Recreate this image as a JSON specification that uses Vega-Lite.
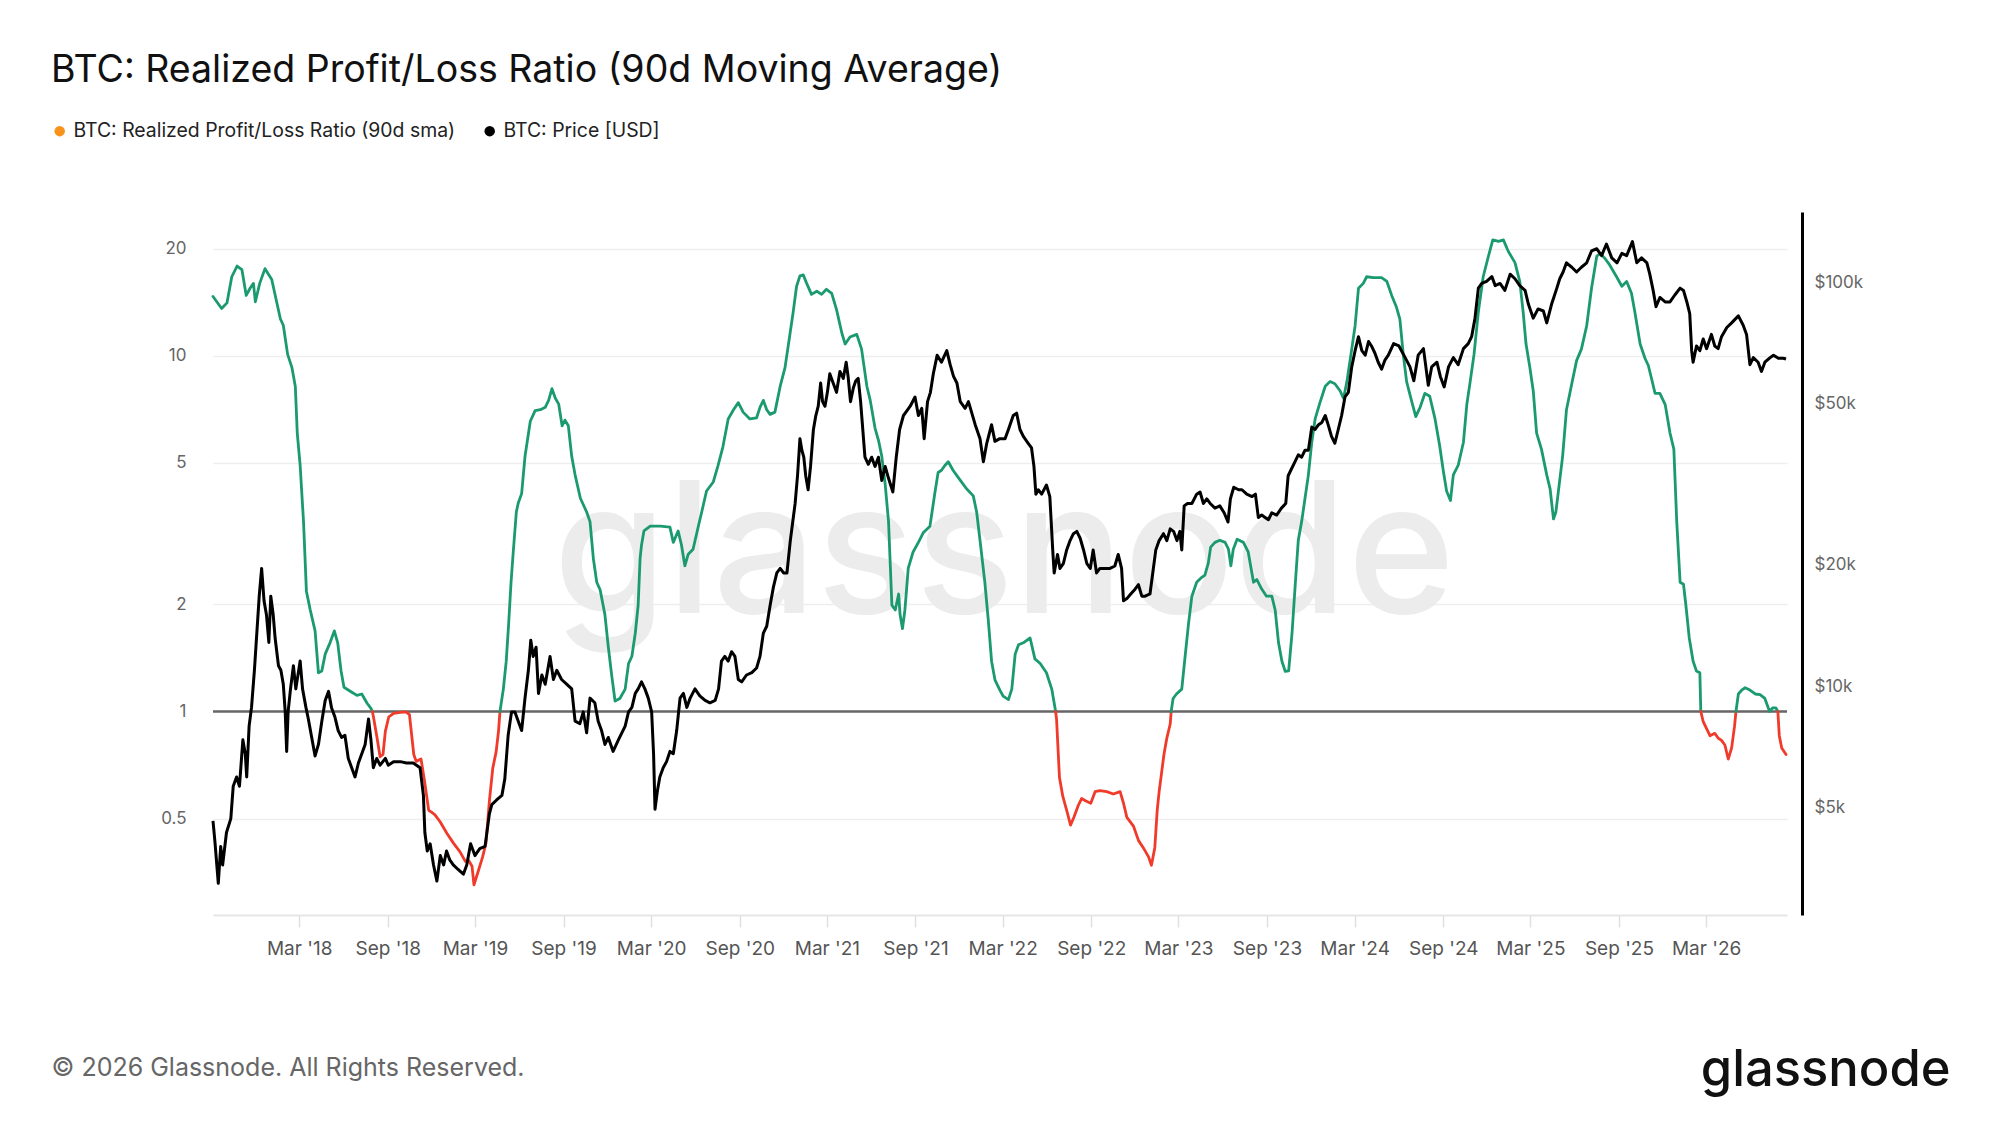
{
"$schema": "https://vega.github.io/schema/vega-lite/v6.json",
"width": 1574,
"height": 703,
"autosize": {"type": "none"},
"padding": {"left": 213, "top": 212, "right": 213, "bottom": 210},
"background": "#ffffff",
"config": {"font": "Inter", "view": {"stroke": null}},
"title": {"text": "BTC: Realized Profit/Loss Ratio (90d Moving Average)", "anchor": "start", "frame": "group", "dx": -162, "dy": -12, "fontSize": 37.5, "fontWeight": 400, "color": "#111111", "font": "Inter", "offset": 20},
"datasets": {
"ratio": [
{"date":"2017-09-03","ratio":14.7,"zone":"profit","seg":1},
{"date":"2017-09-21","ratio":13.6,"zone":"profit","seg":1},
{"date":"2017-10-02","ratio":14.1,"zone":"profit","seg":1},
{"date":"2017-10-12","ratio":16.7,"zone":"profit","seg":1},
{"date":"2017-10-23","ratio":17.9,"zone":"profit","seg":1},
{"date":"2017-11-02","ratio":17.5,"zone":"profit","seg":1},
{"date":"2017-11-11","ratio":14.8,"zone":"profit","seg":1},
{"date":"2017-11-19","ratio":15.5,"zone":"profit","seg":1},
{"date":"2017-11-26","ratio":16.0,"zone":"profit","seg":1},
{"date":"2017-11-30","ratio":14.2,"zone":"profit","seg":1},
{"date":"2017-12-09","ratio":16.0,"zone":"profit","seg":1},
{"date":"2017-12-20","ratio":17.6,"zone":"profit","seg":1},
{"date":"2018-01-03","ratio":16.4,"zone":"profit","seg":1},
{"date":"2018-01-21","ratio":12.7,"zone":"profit","seg":1},
{"date":"2018-01-27","ratio":12.2,"zone":"profit","seg":1},
{"date":"2018-02-05","ratio":10.1,"zone":"profit","seg":1},
{"date":"2018-02-14","ratio":9.27,"zone":"profit","seg":1},
{"date":"2018-02-21","ratio":8.2,"zone":"profit","seg":1},
{"date":"2018-02-25","ratio":6.07,"zone":"profit","seg":1},
{"date":"2018-03-03","ratio":4.92,"zone":"profit","seg":1},
{"date":"2018-03-10","ratio":3.42,"zone":"profit","seg":1},
{"date":"2018-03-16","ratio":2.18,"zone":"profit","seg":1},
{"date":"2018-03-24","ratio":1.93,"zone":"profit","seg":1},
{"date":"2018-04-03","ratio":1.685,"zone":"profit","seg":1},
{"date":"2018-04-10","ratio":1.285,"zone":"profit","seg":1},
{"date":"2018-04-17","ratio":1.30,"zone":"profit","seg":1},
{"date":"2018-04-24","ratio":1.45,"zone":"profit","seg":1},
{"date":"2018-05-04","ratio":1.56,"zone":"profit","seg":1},
{"date":"2018-05-13","ratio":1.685,"zone":"profit","seg":1},
{"date":"2018-05-20","ratio":1.56,"zone":"profit","seg":1},
{"date":"2018-05-27","ratio":1.30,"zone":"profit","seg":1},
{"date":"2018-06-02","ratio":1.17,"zone":"profit","seg":1},
{"date":"2018-06-15","ratio":1.14,"zone":"profit","seg":1},
{"date":"2018-06-29","ratio":1.11,"zone":"profit","seg":1},
{"date":"2018-07-09","ratio":1.12,"zone":"profit","seg":1},
{"date":"2018-07-20","ratio":1.055,"zone":"profit","seg":1},
{"date":"2018-07-28","ratio":1.02,"zone":"profit","seg":1},
{"date":"2018-07-31","ratio":1.0,"zone":"profit","seg":1},
{"date":"2018-07-31","ratio":1.0,"zone":"loss","seg":2},
{"date":"2018-08-02","ratio":0.97,"zone":"loss","seg":2},
{"date":"2018-08-09","ratio":0.855,"zone":"loss","seg":2},
{"date":"2018-08-16","ratio":0.746,"zone":"loss","seg":2},
{"date":"2018-08-22","ratio":0.757,"zone":"loss","seg":2},
{"date":"2018-08-27","ratio":0.881,"zone":"loss","seg":2},
{"date":"2018-09-03","ratio":0.965,"zone":"loss","seg":2},
{"date":"2018-09-13","ratio":0.988,"zone":"loss","seg":2},
{"date":"2018-09-27","ratio":0.994,"zone":"loss","seg":2},
{"date":"2018-10-09","ratio":0.998,"zone":"loss","seg":2},
{"date":"2018-10-16","ratio":0.98,"zone":"loss","seg":2},
{"date":"2018-10-25","ratio":0.757,"zone":"loss","seg":2},
{"date":"2018-10-30","ratio":0.724,"zone":"loss","seg":2},
{"date":"2018-11-09","ratio":0.735,"zone":"loss","seg":2},
{"date":"2018-11-16","ratio":0.642,"zone":"loss","seg":2},
{"date":"2018-11-25","ratio":0.527,"zone":"loss","seg":2},
{"date":"2018-12-02","ratio":0.52,"zone":"loss","seg":2},
{"date":"2018-12-08","ratio":0.512,"zone":"loss","seg":2},
{"date":"2018-12-19","ratio":0.489,"zone":"loss","seg":2},
{"date":"2019-01-02","ratio":0.4536,"zone":"loss","seg":2},
{"date":"2019-01-15","ratio":0.427,"zone":"loss","seg":2},
{"date":"2019-01-29","ratio":0.403,"zone":"loss","seg":2},
{"date":"2019-02-09","ratio":0.379,"zone":"loss","seg":2},
{"date":"2019-02-16","ratio":0.381,"zone":"loss","seg":2},
{"date":"2019-02-23","ratio":0.367,"zone":"loss","seg":2},
{"date":"2019-02-27","ratio":0.3256,"zone":"loss","seg":2},
{"date":"2019-03-08","ratio":0.356,"zone":"loss","seg":2},
{"date":"2019-03-17","ratio":0.39,"zone":"loss","seg":2},
{"date":"2019-03-24","ratio":0.427,"zone":"loss","seg":2},
{"date":"2019-03-31","ratio":0.56,"zone":"loss","seg":2},
{"date":"2019-04-07","ratio":0.692,"zone":"loss","seg":2},
{"date":"2019-04-14","ratio":0.77,"zone":"loss","seg":2},
{"date":"2019-04-19","ratio":0.881,"zone":"loss","seg":2},
{"date":"2019-04-22","ratio":1.0,"zone":"loss","seg":2},
{"date":"2019-04-22","ratio":1.0,"zone":"profit","seg":3},
{"date":"2019-04-29","ratio":1.156,"zone":"profit","seg":3},
{"date":"2019-05-05","ratio":1.385,"zone":"profit","seg":3},
{"date":"2019-05-10","ratio":1.763,"zone":"profit","seg":3},
{"date":"2019-05-15","ratio":2.31,"zone":"profit","seg":3},
{"date":"2019-05-20","ratio":2.86,"zone":"profit","seg":3},
{"date":"2019-05-26","ratio":3.64,"zone":"profit","seg":3},
{"date":"2019-05-30","ratio":3.86,"zone":"profit","seg":3},
{"date":"2019-06-06","ratio":4.1,"zone":"profit","seg":3},
{"date":"2019-06-13","ratio":5.22,"zone":"profit","seg":3},
{"date":"2019-06-24","ratio":6.55,"zone":"profit","seg":3},
{"date":"2019-07-04","ratio":7.02,"zone":"profit","seg":3},
{"date":"2019-07-15","ratio":7.06,"zone":"profit","seg":3},
{"date":"2019-07-25","ratio":7.17,"zone":"profit","seg":3},
{"date":"2019-08-01","ratio":7.5,"zone":"profit","seg":3},
{"date":"2019-08-08","ratio":8.09,"zone":"profit","seg":3},
{"date":"2019-08-15","ratio":7.6,"zone":"profit","seg":3},
{"date":"2019-08-22","ratio":7.32,"zone":"profit","seg":3},
{"date":"2019-08-29","ratio":6.36,"zone":"profit","seg":3},
{"date":"2019-09-04","ratio":6.6,"zone":"profit","seg":3},
{"date":"2019-09-11","ratio":6.36,"zone":"profit","seg":3},
{"date":"2019-09-18","ratio":5.22,"zone":"profit","seg":3},
{"date":"2019-09-25","ratio":4.63,"zone":"profit","seg":3},
{"date":"2019-10-06","ratio":3.98,"zone":"profit","seg":3},
{"date":"2019-10-19","ratio":3.64,"zone":"profit","seg":3},
{"date":"2019-10-26","ratio":3.42,"zone":"profit","seg":3},
{"date":"2019-11-02","ratio":2.69,"zone":"profit","seg":3},
{"date":"2019-11-09","ratio":2.31,"zone":"profit","seg":3},
{"date":"2019-11-16","ratio":2.2,"zone":"profit","seg":3},
{"date":"2019-11-26","ratio":1.87,"zone":"profit","seg":3},
{"date":"2019-12-03","ratio":1.52,"zone":"profit","seg":3},
{"date":"2019-12-10","ratio":1.265,"zone":"profit","seg":3},
{"date":"2019-12-17","ratio":1.07,"zone":"profit","seg":3},
{"date":"2019-12-27","ratio":1.088,"zone":"profit","seg":3},
{"date":"2020-01-07","ratio":1.156,"zone":"profit","seg":3},
{"date":"2020-01-14","ratio":1.364,"zone":"profit","seg":3},
{"date":"2020-01-21","ratio":1.43,"zone":"profit","seg":3},
{"date":"2020-01-28","ratio":1.66,"zone":"profit","seg":3},
{"date":"2020-02-03","ratio":1.99,"zone":"profit","seg":3},
{"date":"2020-02-07","ratio":2.69,"zone":"profit","seg":3},
{"date":"2020-02-10","ratio":2.94,"zone":"profit","seg":3},
{"date":"2020-02-15","ratio":3.22,"zone":"profit","seg":3},
{"date":"2020-02-28","ratio":3.32,"zone":"profit","seg":3},
{"date":"2020-03-20","ratio":3.32,"zone":"profit","seg":3},
{"date":"2020-04-09","ratio":3.30,"zone":"profit","seg":3},
{"date":"2020-04-16","ratio":2.99,"zone":"profit","seg":3},
{"date":"2020-04-26","ratio":3.22,"zone":"profit","seg":3},
{"date":"2020-05-03","ratio":2.94,"zone":"profit","seg":3},
{"date":"2020-05-10","ratio":2.57,"zone":"profit","seg":3},
{"date":"2020-05-17","ratio":2.77,"zone":"profit","seg":3},
{"date":"2020-05-27","ratio":2.86,"zone":"profit","seg":3},
{"date":"2020-06-07","ratio":3.32,"zone":"profit","seg":3},
{"date":"2020-06-14","ratio":3.64,"zone":"profit","seg":3},
{"date":"2020-06-24","ratio":4.17,"zone":"profit","seg":3},
{"date":"2020-07-08","ratio":4.42,"zone":"profit","seg":3},
{"date":"2020-07-18","ratio":4.92,"zone":"profit","seg":3},
{"date":"2020-07-28","ratio":5.55,"zone":"profit","seg":3},
{"date":"2020-08-08","ratio":6.65,"zone":"profit","seg":3},
{"date":"2020-08-19","ratio":7.06,"zone":"profit","seg":3},
{"date":"2020-08-29","ratio":7.39,"zone":"profit","seg":3},
{"date":"2020-09-08","ratio":6.95,"zone":"profit","seg":3},
{"date":"2020-09-22","ratio":6.65,"zone":"profit","seg":3},
{"date":"2020-10-06","ratio":6.7,"zone":"profit","seg":3},
{"date":"2020-10-13","ratio":7.17,"zone":"profit","seg":3},
{"date":"2020-10-20","ratio":7.5,"zone":"profit","seg":3},
{"date":"2020-10-27","ratio":7.06,"zone":"profit","seg":3},
{"date":"2020-11-03","ratio":6.85,"zone":"profit","seg":3},
{"date":"2020-11-13","ratio":6.95,"zone":"profit","seg":3},
{"date":"2020-11-24","ratio":8.22,"zone":"profit","seg":3},
{"date":"2020-12-04","ratio":9.27,"zone":"profit","seg":3},
{"date":"2020-12-14","ratio":11.45,"zone":"profit","seg":3},
{"date":"2020-12-21","ratio":13.3,"zone":"profit","seg":3},
{"date":"2020-12-28","ratio":15.7,"zone":"profit","seg":3},
{"date":"2021-01-04","ratio":16.8,"zone":"profit","seg":3},
{"date":"2021-01-11","ratio":16.9,"zone":"profit","seg":3},
{"date":"2021-01-18","ratio":16.0,"zone":"profit","seg":3},
{"date":"2021-01-28","ratio":14.9,"zone":"profit","seg":3},
{"date":"2021-02-08","ratio":15.2,"zone":"profit","seg":3},
{"date":"2021-02-18","ratio":14.9,"zone":"profit","seg":3},
{"date":"2021-02-28","ratio":15.4,"zone":"profit","seg":3},
{"date":"2021-03-11","ratio":15.0,"zone":"profit","seg":3},
{"date":"2021-03-21","ratio":13.5,"zone":"profit","seg":3},
{"date":"2021-04-01","ratio":11.6,"zone":"profit","seg":3},
{"date":"2021-04-08","ratio":10.8,"zone":"profit","seg":3},
{"date":"2021-04-18","ratio":11.3,"zone":"profit","seg":3},
{"date":"2021-05-02","ratio":11.5,"zone":"profit","seg":3},
{"date":"2021-05-12","ratio":10.45,"zone":"profit","seg":3},
{"date":"2021-05-23","ratio":8.22,"zone":"profit","seg":3},
{"date":"2021-05-30","ratio":7.5,"zone":"profit","seg":3},
{"date":"2021-06-09","ratio":6.26,"zone":"profit","seg":3},
{"date":"2021-06-16","ratio":5.8,"zone":"profit","seg":3},
{"date":"2021-06-23","ratio":5.22,"zone":"profit","seg":3},
{"date":"2021-06-30","ratio":4.36,"zone":"profit","seg":3},
{"date":"2021-07-07","ratio":3.42,"zone":"profit","seg":3},
{"date":"2021-07-14","ratio":1.99,"zone":"profit","seg":3},
{"date":"2021-07-21","ratio":1.93,"zone":"profit","seg":3},
{"date":"2021-07-28","ratio":2.14,"zone":"profit","seg":3},
{"date":"2021-07-31","ratio":1.87,"zone":"profit","seg":3},
{"date":"2021-08-05","ratio":1.71,"zone":"profit","seg":3},
{"date":"2021-08-10","ratio":1.93,"zone":"profit","seg":3},
{"date":"2021-08-17","ratio":2.53,"zone":"profit","seg":3},
{"date":"2021-08-27","ratio":2.81,"zone":"profit","seg":3},
{"date":"2021-09-07","ratio":2.99,"zone":"profit","seg":3},
{"date":"2021-09-17","ratio":3.18,"zone":"profit","seg":3},
{"date":"2021-10-01","ratio":3.32,"zone":"profit","seg":3},
{"date":"2021-10-11","ratio":4.1,"zone":"profit","seg":3},
{"date":"2021-10-18","ratio":4.7,"zone":"profit","seg":3},
{"date":"2021-10-25","ratio":4.77,"zone":"profit","seg":3},
{"date":"2021-11-01","ratio":4.92,"zone":"profit","seg":3},
{"date":"2021-11-08","ratio":5.04,"zone":"profit","seg":3},
{"date":"2021-11-18","ratio":4.77,"zone":"profit","seg":3},
{"date":"2021-12-02","ratio":4.49,"zone":"profit","seg":3},
{"date":"2021-12-16","ratio":4.23,"zone":"profit","seg":3},
{"date":"2021-12-30","ratio":4.04,"zone":"profit","seg":3},
{"date":"2022-01-06","ratio":3.64,"zone":"profit","seg":3},
{"date":"2022-01-13","ratio":3.03,"zone":"profit","seg":3},
{"date":"2022-01-23","ratio":2.31,"zone":"profit","seg":3},
{"date":"2022-01-30","ratio":1.82,"zone":"profit","seg":3},
{"date":"2022-02-06","ratio":1.385,"zone":"profit","seg":3},
{"date":"2022-02-13","ratio":1.228,"zone":"profit","seg":3},
{"date":"2022-02-23","ratio":1.15,"zone":"profit","seg":3},
{"date":"2022-03-02","ratio":1.105,"zone":"profit","seg":3},
{"date":"2022-03-13","ratio":1.08,"zone":"profit","seg":3},
{"date":"2022-03-20","ratio":1.156,"zone":"profit","seg":3},
{"date":"2022-03-27","ratio":1.45,"zone":"profit","seg":3},
{"date":"2022-04-03","ratio":1.54,"zone":"profit","seg":3},
{"date":"2022-04-13","ratio":1.56,"zone":"profit","seg":3},
{"date":"2022-04-27","ratio":1.61,"zone":"profit","seg":3},
{"date":"2022-05-07","ratio":1.406,"zone":"profit","seg":3},
{"date":"2022-05-18","ratio":1.364,"zone":"profit","seg":3},
{"date":"2022-05-31","ratio":1.285,"zone":"profit","seg":3},
{"date":"2022-06-11","ratio":1.156,"zone":"profit","seg":3},
{"date":"2022-06-18","ratio":1.02,"zone":"profit","seg":3},
{"date":"2022-06-19","ratio":1.0,"zone":"profit","seg":3},
{"date":"2022-06-19","ratio":1.0,"zone":"loss","seg":4},
{"date":"2022-06-21","ratio":0.95,"zone":"loss","seg":4},
{"date":"2022-06-27","ratio":0.652,"zone":"loss","seg":4},
{"date":"2022-07-04","ratio":0.577,"zone":"loss","seg":4},
{"date":"2022-07-12","ratio":0.527,"zone":"loss","seg":4},
{"date":"2022-07-20","ratio":0.479,"zone":"loss","seg":4},
{"date":"2022-07-27","ratio":0.504,"zone":"loss","seg":4},
{"date":"2022-08-05","ratio":0.544,"zone":"loss","seg":4},
{"date":"2022-08-12","ratio":0.569,"zone":"loss","seg":4},
{"date":"2022-08-21","ratio":0.56,"zone":"loss","seg":4},
{"date":"2022-08-31","ratio":0.552,"zone":"loss","seg":4},
{"date":"2022-09-09","ratio":0.595,"zone":"loss","seg":4},
{"date":"2022-09-19","ratio":0.599,"zone":"loss","seg":4},
{"date":"2022-10-03","ratio":0.595,"zone":"loss","seg":4},
{"date":"2022-10-17","ratio":0.586,"zone":"loss","seg":4},
{"date":"2022-10-31","ratio":0.595,"zone":"loss","seg":4},
{"date":"2022-11-07","ratio":0.552,"zone":"loss","seg":4},
{"date":"2022-11-14","ratio":0.504,"zone":"loss","seg":4},
{"date":"2022-11-28","ratio":0.475,"zone":"loss","seg":4},
{"date":"2022-12-08","ratio":0.434,"zone":"loss","seg":4},
{"date":"2022-12-18","ratio":0.414,"zone":"loss","seg":4},
{"date":"2022-12-29","ratio":0.39,"zone":"loss","seg":4},
{"date":"2023-01-04","ratio":0.3695,"zone":"loss","seg":4},
{"date":"2023-01-11","ratio":0.414,"zone":"loss","seg":4},
{"date":"2023-01-16","ratio":0.527,"zone":"loss","seg":4},
{"date":"2023-01-20","ratio":0.595,"zone":"loss","seg":4},
{"date":"2023-01-25","ratio":0.671,"zone":"loss","seg":4},
{"date":"2023-01-30","ratio":0.757,"zone":"loss","seg":4},
{"date":"2023-02-05","ratio":0.842,"zone":"loss","seg":4},
{"date":"2023-02-12","ratio":0.922,"zone":"loss","seg":4},
{"date":"2023-02-14","ratio":1.0,"zone":"loss","seg":4},
{"date":"2023-02-14","ratio":1.0,"zone":"profit","seg":5},
{"date":"2023-02-18","ratio":1.088,"zone":"profit","seg":5},
{"date":"2023-02-25","ratio":1.12,"zone":"profit","seg":5},
{"date":"2023-03-08","ratio":1.156,"zone":"profit","seg":5},
{"date":"2023-03-15","ratio":1.43,"zone":"profit","seg":5},
{"date":"2023-03-22","ratio":1.763,"zone":"profit","seg":5},
{"date":"2023-03-29","ratio":2.11,"zone":"profit","seg":5},
{"date":"2023-04-08","ratio":2.31,"zone":"profit","seg":5},
{"date":"2023-04-18","ratio":2.38,"zone":"profit","seg":5},
{"date":"2023-04-25","ratio":2.42,"zone":"profit","seg":5},
{"date":"2023-05-02","ratio":2.61,"zone":"profit","seg":5},
{"date":"2023-05-07","ratio":2.9,"zone":"profit","seg":5},
{"date":"2023-05-16","ratio":2.99,"zone":"profit","seg":5},
{"date":"2023-05-26","ratio":3.03,"zone":"profit","seg":5},
{"date":"2023-06-06","ratio":2.99,"zone":"profit","seg":5},
{"date":"2023-06-13","ratio":2.86,"zone":"profit","seg":5},
{"date":"2023-06-18","ratio":2.57,"zone":"profit","seg":5},
{"date":"2023-06-23","ratio":2.86,"zone":"profit","seg":5},
{"date":"2023-07-01","ratio":3.05,"zone":"profit","seg":5},
{"date":"2023-07-14","ratio":2.99,"zone":"profit","seg":5},
{"date":"2023-07-24","ratio":2.81,"zone":"profit","seg":5},
{"date":"2023-08-04","ratio":2.31,"zone":"profit","seg":5},
{"date":"2023-08-11","ratio":2.35,"zone":"profit","seg":5},
{"date":"2023-08-21","ratio":2.21,"zone":"profit","seg":5},
{"date":"2023-08-31","ratio":2.11,"zone":"profit","seg":5},
{"date":"2023-09-11","ratio":2.11,"zone":"profit","seg":5},
{"date":"2023-09-18","ratio":1.93,"zone":"profit","seg":5},
{"date":"2023-09-25","ratio":1.56,"zone":"profit","seg":5},
{"date":"2023-10-02","ratio":1.385,"zone":"profit","seg":5},
{"date":"2023-10-09","ratio":1.296,"zone":"profit","seg":5},
{"date":"2023-10-16","ratio":1.30,"zone":"profit","seg":5},
{"date":"2023-10-23","ratio":1.66,"zone":"profit","seg":5},
{"date":"2023-10-30","ratio":2.31,"zone":"profit","seg":5},
{"date":"2023-11-05","ratio":3.03,"zone":"profit","seg":5},
{"date":"2023-11-12","ratio":3.42,"zone":"profit","seg":5},
{"date":"2023-11-19","ratio":3.98,"zone":"profit","seg":5},
{"date":"2023-11-26","ratio":4.63,"zone":"profit","seg":5},
{"date":"2023-12-03","ratio":5.72,"zone":"profit","seg":5},
{"date":"2023-12-10","ratio":6.65,"zone":"profit","seg":5},
{"date":"2023-12-20","ratio":7.39,"zone":"profit","seg":5},
{"date":"2023-12-31","ratio":8.22,"zone":"profit","seg":5},
{"date":"2024-01-10","ratio":8.47,"zone":"profit","seg":5},
{"date":"2024-01-20","ratio":8.35,"zone":"profit","seg":5},
{"date":"2024-01-31","ratio":7.97,"zone":"profit","seg":5},
{"date":"2024-02-07","ratio":7.6,"zone":"profit","seg":5},
{"date":"2024-02-14","ratio":8.47,"zone":"profit","seg":5},
{"date":"2024-02-24","ratio":10.45,"zone":"profit","seg":5},
{"date":"2024-03-02","ratio":12.16,"zone":"profit","seg":5},
{"date":"2024-03-09","ratio":15.5,"zone":"profit","seg":5},
{"date":"2024-03-19","ratio":16.0,"zone":"profit","seg":5},
{"date":"2024-03-26","ratio":16.7,"zone":"profit","seg":5},
{"date":"2024-04-09","ratio":16.6,"zone":"profit","seg":5},
{"date":"2024-04-26","ratio":16.6,"zone":"profit","seg":5},
{"date":"2024-05-07","ratio":16.2,"zone":"profit","seg":5},
{"date":"2024-05-17","ratio":14.8,"zone":"profit","seg":5},
{"date":"2024-05-27","ratio":13.7,"zone":"profit","seg":5},
{"date":"2024-06-03","ratio":12.7,"zone":"profit","seg":5},
{"date":"2024-06-10","ratio":10.1,"zone":"profit","seg":5},
{"date":"2024-06-17","ratio":8.47,"zone":"profit","seg":5},
{"date":"2024-06-27","ratio":7.5,"zone":"profit","seg":5},
{"date":"2024-07-06","ratio":6.75,"zone":"profit","seg":5},
{"date":"2024-07-15","ratio":7.17,"zone":"profit","seg":5},
{"date":"2024-07-25","ratio":7.85,"zone":"profit","seg":5},
{"date":"2024-08-04","ratio":7.7,"zone":"profit","seg":5},
{"date":"2024-08-15","ratio":6.65,"zone":"profit","seg":5},
{"date":"2024-08-25","ratio":5.55,"zone":"profit","seg":5},
{"date":"2024-09-01","ratio":4.77,"zone":"profit","seg":5},
{"date":"2024-09-08","ratio":4.17,"zone":"profit","seg":5},
{"date":"2024-09-16","ratio":3.92,"zone":"profit","seg":5},
{"date":"2024-09-22","ratio":4.63,"zone":"profit","seg":5},
{"date":"2024-10-02","ratio":4.92,"zone":"profit","seg":5},
{"date":"2024-10-13","ratio":5.72,"zone":"profit","seg":5},
{"date":"2024-10-20","ratio":7.3,"zone":"profit","seg":5},
{"date":"2024-10-27","ratio":8.47,"zone":"profit","seg":5},
{"date":"2024-11-04","ratio":10.1,"zone":"profit","seg":5},
{"date":"2024-11-13","ratio":13.3,"zone":"profit","seg":5},
{"date":"2024-11-23","ratio":16.7,"zone":"profit","seg":5},
{"date":"2024-12-04","ratio":19.1,"zone":"profit","seg":5},
{"date":"2024-12-13","ratio":21.2,"zone":"profit","seg":5},
{"date":"2024-12-25","ratio":21.0,"zone":"profit","seg":5},
{"date":"2025-01-04","ratio":21.2,"zone":"profit","seg":5},
{"date":"2025-01-14","ratio":19.7,"zone":"profit","seg":5},
{"date":"2025-01-28","ratio":18.3,"zone":"profit","seg":5},
{"date":"2025-02-07","ratio":16.2,"zone":"profit","seg":5},
{"date":"2025-02-14","ratio":13.3,"zone":"profit","seg":5},
{"date":"2025-02-20","ratio":10.8,"zone":"profit","seg":5},
{"date":"2025-02-28","ratio":9.27,"zone":"profit","seg":5},
{"date":"2025-03-07","ratio":7.97,"zone":"profit","seg":5},
{"date":"2025-03-14","ratio":6.07,"zone":"profit","seg":5},
{"date":"2025-03-24","ratio":5.47,"zone":"profit","seg":5},
{"date":"2025-04-04","ratio":4.63,"zone":"profit","seg":5},
{"date":"2025-04-11","ratio":4.23,"zone":"profit","seg":5},
{"date":"2025-04-18","ratio":3.48,"zone":"profit","seg":5},
{"date":"2025-04-23","ratio":3.64,"zone":"profit","seg":5},
{"date":"2025-04-30","ratio":4.36,"zone":"profit","seg":5},
{"date":"2025-05-07","ratio":5.22,"zone":"profit","seg":5},
{"date":"2025-05-15","ratio":7.06,"zone":"profit","seg":5},
{"date":"2025-05-26","ratio":8.35,"zone":"profit","seg":5},
{"date":"2025-06-05","ratio":9.7,"zone":"profit","seg":5},
{"date":"2025-06-15","ratio":10.45,"zone":"profit","seg":5},
{"date":"2025-06-26","ratio":12.16,"zone":"profit","seg":5},
{"date":"2025-07-06","ratio":15.5,"zone":"profit","seg":5},
{"date":"2025-07-17","ratio":19.1,"zone":"profit","seg":5},
{"date":"2025-07-24","ratio":19.4,"zone":"profit","seg":5},
{"date":"2025-08-03","ratio":18.8,"zone":"profit","seg":5},
{"date":"2025-08-13","ratio":18.0,"zone":"profit","seg":5},
{"date":"2025-08-27","ratio":16.7,"zone":"profit","seg":5},
{"date":"2025-09-07","ratio":15.7,"zone":"profit","seg":5},
{"date":"2025-09-17","ratio":16.2,"zone":"profit","seg":5},
{"date":"2025-09-27","ratio":15.0,"zone":"profit","seg":5},
{"date":"2025-10-04","ratio":13.3,"zone":"profit","seg":5},
{"date":"2025-10-15","ratio":10.8,"zone":"profit","seg":5},
{"date":"2025-10-25","ratio":9.85,"zone":"profit","seg":5},
{"date":"2025-11-01","ratio":9.4,"zone":"profit","seg":5},
{"date":"2025-11-08","ratio":8.6,"zone":"profit","seg":5},
{"date":"2025-11-15","ratio":7.85,"zone":"profit","seg":5},
{"date":"2025-11-25","ratio":7.85,"zone":"profit","seg":5},
{"date":"2025-12-06","ratio":7.3,"zone":"profit","seg":5},
{"date":"2025-12-16","ratio":6.07,"zone":"profit","seg":5},
{"date":"2025-12-24","ratio":5.47,"zone":"profit","seg":5},
{"date":"2025-12-30","ratio":3.42,"zone":"profit","seg":5},
{"date":"2026-01-06","ratio":2.31,"zone":"profit","seg":5},
{"date":"2026-01-13","ratio":2.28,"zone":"profit","seg":5},
{"date":"2026-01-18","ratio":1.99,"zone":"profit","seg":5},
{"date":"2026-01-25","ratio":1.61,"zone":"profit","seg":5},
{"date":"2026-02-02","ratio":1.385,"zone":"profit","seg":5},
{"date":"2026-02-09","ratio":1.30,"zone":"profit","seg":5},
{"date":"2026-02-16","ratio":1.285,"zone":"profit","seg":5},
{"date":"2026-02-18","ratio":1.0,"zone":"profit","seg":5},
{"date":"2026-02-18","ratio":1.0,"zone":"loss","seg":6},
{"date":"2026-02-23","ratio":0.936,"zone":"loss","seg":6},
{"date":"2026-03-02","ratio":0.895,"zone":"loss","seg":6},
{"date":"2026-03-09","ratio":0.855,"zone":"loss","seg":6},
{"date":"2026-03-19","ratio":0.868,"zone":"loss","seg":6},
{"date":"2026-03-26","ratio":0.842,"zone":"loss","seg":6},
{"date":"2026-04-02","ratio":0.829,"zone":"loss","seg":6},
{"date":"2026-04-09","ratio":0.805,"zone":"loss","seg":6},
{"date":"2026-04-16","ratio":0.735,"zone":"loss","seg":6},
{"date":"2026-04-23","ratio":0.79,"zone":"loss","seg":6},
{"date":"2026-04-29","ratio":0.908,"zone":"loss","seg":6},
{"date":"2026-05-02","ratio":1.0,"zone":"loss","seg":6},
{"date":"2026-05-02","ratio":1.0,"zone":"profit","seg":7},
{"date":"2026-05-07","ratio":1.12,"zone":"profit","seg":7},
{"date":"2026-05-14","ratio":1.149,"zone":"profit","seg":7},
{"date":"2026-05-21","ratio":1.166,"zone":"profit","seg":7},
{"date":"2026-05-31","ratio":1.149,"zone":"profit","seg":7},
{"date":"2026-06-11","ratio":1.12,"zone":"profit","seg":7},
{"date":"2026-06-21","ratio":1.115,"zone":"profit","seg":7},
{"date":"2026-07-01","ratio":1.088,"zone":"profit","seg":7},
{"date":"2026-07-08","ratio":1.024,"zone":"profit","seg":7},
{"date":"2026-07-11","ratio":1.0,"zone":"profit","seg":7},
{"date":"2026-07-17","ratio":1.024,"zone":"profit","seg":7},
{"date":"2026-07-24","ratio":1.024,"zone":"profit","seg":7},
{"date":"2026-07-28","ratio":1.0,"zone":"profit","seg":7},
{"date":"2026-07-28","ratio":1.0,"zone":"loss","seg":8},
{"date":"2026-07-31","ratio":0.855,"zone":"loss","seg":8},
{"date":"2026-08-05","ratio":0.79,"zone":"loss","seg":8},
{"date":"2026-08-14","ratio":0.757,"zone":"loss","seg":8}
],
"price": [
{"date":"2017-09-03","price":4640},{"date":"2017-09-07","price":4120},{"date":"2017-09-14","price":3248},{"date":"2017-09-19","price":4010},{"date":"2017-09-23","price":3607},{"date":"2017-10-01","price":4341},{"date":"2017-10-10","price":4698},{"date":"2017-10-15","price":5650},{"date":"2017-10-22","price":5957},{"date":"2017-10-28","price":5650},{"date":"2017-11-04","price":7360},{"date":"2017-11-09","price":6800},{"date":"2017-11-12","price":5957},{"date":"2017-11-17","price":7960},{"date":"2017-11-22","price":8855},{"date":"2017-11-28","price":10940},{"date":"2017-12-03","price":13520},{"date":"2017-12-08","price":16690},{"date":"2017-12-13","price":19550},{"date":"2017-12-18","price":16250},{"date":"2017-12-23","price":15020},{"date":"2017-12-28","price":12820},{"date":"2018-01-01","price":16690},{"date":"2018-01-06","price":15020},{"date":"2018-01-10","price":13150},{"date":"2018-01-17","price":11230},{"date":"2018-01-22","price":10940},{"date":"2018-01-27","price":10100},{"date":"2018-01-31","price":8630},{"date":"2018-02-03","price":6890},{"date":"2018-02-06","price":8630},{"date":"2018-02-11","price":9840},{"date":"2018-02-17","price":11230},{"date":"2018-02-22","price":9840},{"date":"2018-03-03","price":11530},{"date":"2018-03-08","price":9840},{"date":"2018-03-15","price":8855},{"date":"2018-03-20","price":8290},{"date":"2018-03-27","price":7460},{"date":"2018-04-03","price":6715},{"date":"2018-04-10","price":7170},{"date":"2018-04-17","price":8185},{"date":"2018-04-24","price":9212},{"date":"2018-05-01","price":9700},{"date":"2018-05-07","price":8855},{"date":"2018-05-14","price":8400},{"date":"2018-05-21","price":7760},{"date":"2018-05-28","price":7460},{"date":"2018-06-04","price":7555},{"date":"2018-06-11","price":6620},{"date":"2018-06-18","price":6280},{"date":"2018-06-25","price":5957},{"date":"2018-07-02","price":6450},{"date":"2018-07-09","price":6800},{"date":"2018-07-16","price":7170},{"date":"2018-07-23","price":8290},{"date":"2018-07-28","price":7360},{"date":"2018-08-02","price":6280},{"date":"2018-08-09","price":6620},{"date":"2018-08-16","price":6370},{"date":"2018-08-27","price":6620},{"date":"2018-09-02","price":6370},{"date":"2018-09-13","price":6500},{"date":"2018-09-27","price":6500},{"date":"2018-10-10","price":6450},{"date":"2018-10-24","price":6450},{"date":"2018-11-07","price":6280},{"date":"2018-11-14","price":5362},{"date":"2018-11-17","price":4341},{"date":"2018-11-22","price":3906},{"date":"2018-11-28","price":4070},{"date":"2018-12-05","price":3607},{"date":"2018-12-12","price":3290},{"date":"2018-12-19","price":3805},{"date":"2018-12-26","price":3607},{"date":"2019-01-01","price":3906},{"date":"2019-01-08","price":3706},{"date":"2019-01-15","price":3607},{"date":"2019-01-25","price":3515},{"date":"2019-02-05","price":3422},{"date":"2019-02-12","price":3607},{"date":"2019-02-20","price":4070},{"date":"2019-03-01","price":3805},{"date":"2019-03-11","price":3958},{"date":"2019-03-22","price":4010},{"date":"2019-03-31","price":4825},{"date":"2019-04-05","price":5087},{"date":"2019-04-15","price":5224},{"date":"2019-04-26","price":5362},{"date":"2019-05-02","price":5883},{"date":"2019-05-09","price":7555},{"date":"2019-05-16","price":8630},{"date":"2019-05-23","price":8630},{"date":"2019-05-30","price":8185},{"date":"2019-06-06","price":7760},{"date":"2019-06-13","price":9335},{"date":"2019-06-20","price":10940},{"date":"2019-06-25","price":12990},{"date":"2019-06-30","price":11840},{"date":"2019-07-06","price":12480},{"date":"2019-07-11","price":9590},{"date":"2019-07-18","price":10650},{"date":"2019-07-25","price":10100},{"date":"2019-08-04","price":11840},{"date":"2019-08-11","price":10380},{"date":"2019-08-18","price":10940},{"date":"2019-08-28","price":10380},{"date":"2019-09-08","price":10100},{"date":"2019-09-18","price":9840},{"date":"2019-09-25","price":8185},{"date":"2019-10-05","price":8075},{"date":"2019-10-12","price":8630},{"date":"2019-10-19","price":7660},{"date":"2019-10-26","price":9335},{"date":"2019-11-05","price":9090},{"date":"2019-11-12","price":8185},{"date":"2019-11-19","price":7760},{"date":"2019-11-26","price":7170},{"date":"2019-12-03","price":7460},{"date":"2019-12-13","price":6890},{"date":"2019-12-24","price":7360},
{"date":"2020-01-07","price":7960},{"date":"2020-01-14","price":8630},{"date":"2020-01-21","price":8855},{"date":"2020-01-28","price":9590},{"date":"2020-02-03","price":9840},{"date":"2020-02-10","price":10240},{"date":"2020-02-17","price":9840},{"date":"2020-02-24","price":9335},{"date":"2020-03-02","price":8630},{"date":"2020-03-06","price":6800},{"date":"2020-03-09","price":4955},{"date":"2020-03-14","price":5508},{"date":"2020-03-19","price":5957},{"date":"2020-03-26","price":6280},{"date":"2020-04-02","price":6500},{"date":"2020-04-09","price":6890},{"date":"2020-04-16","price":6800},{"date":"2020-04-23","price":7760},{"date":"2020-04-30","price":9335},{"date":"2020-05-07","price":9590},{"date":"2020-05-14","price":8855},{"date":"2020-05-21","price":9335},{"date":"2020-05-31","price":9840},{"date":"2020-06-10","price":9460},{"date":"2020-06-21","price":9212},{"date":"2020-07-01","price":9090},{"date":"2020-07-12","price":9212},{"date":"2020-07-19","price":9840},{"date":"2020-07-25","price":11530},{"date":"2020-08-01","price":11840},{"date":"2020-08-08","price":11530},{"date":"2020-08-15","price":12160},{"date":"2020-08-22","price":11840},{"date":"2020-08-29","price":10380},{"date":"2020-09-05","price":10240},{"date":"2020-09-15","price":10650},{"date":"2020-09-26","price":10800},{"date":"2020-10-06","price":11085},{"date":"2020-10-13","price":11840},{"date":"2020-10-20","price":13520},{"date":"2020-10-27","price":14060},{"date":"2020-11-03","price":15830},{"date":"2020-11-10","price":17600},{"date":"2020-11-17","price":19050},{"date":"2020-11-24","price":19550},{"date":"2020-12-01","price":19050},{"date":"2020-12-08","price":19050},{"date":"2020-12-15","price":22910},{"date":"2020-12-20","price":25470},{"date":"2020-12-25","price":28310},{"date":"2020-12-30","price":33160},
{"date":"2021-01-04","price":40960},{"date":"2021-01-08","price":38370},{"date":"2021-01-12","price":36850},{"date":"2021-01-16","price":33160},{"date":"2021-01-21","price":30610},{"date":"2021-01-26","price":34970},{"date":"2021-02-01","price":43160},{"date":"2021-02-06","price":46740},{"date":"2021-02-11","price":49290},{"date":"2021-02-16","price":56240},{"date":"2021-02-20","price":50580},{"date":"2021-02-25","price":49290},{"date":"2021-03-02","price":53340},{"date":"2021-03-07","price":59290},{"date":"2021-03-14","price":56240},{"date":"2021-03-21","price":53340},{"date":"2021-03-28","price":60080},{"date":"2021-04-04","price":57740},{"date":"2021-04-10","price":63320},{"date":"2021-04-14","price":58400},{"date":"2021-04-19","price":50580},{"date":"2021-04-25","price":54760},{"date":"2021-04-30","price":56980},{"date":"2021-05-05","price":57740},{"date":"2021-05-10","price":50580},{"date":"2021-05-16","price":40960},{"date":"2021-05-19","price":36850},{"date":"2021-05-26","price":35400},{"date":"2021-06-02","price":36850},{"date":"2021-06-09","price":34970},{"date":"2021-06-16","price":36850},{"date":"2021-06-23","price":32280},{"date":"2021-06-30","price":34970},{"date":"2021-07-07","price":32680},{"date":"2021-07-16","price":30230},{"date":"2021-07-23","price":36850},{"date":"2021-07-30","price":43160},{"date":"2021-08-07","price":46740},{"date":"2021-08-14","price":47970},{"date":"2021-08-21","price":49290},{"date":"2021-08-31","price":51950},{"date":"2021-09-07","price":46740},{"date":"2021-09-14","price":48680},{"date":"2021-09-19","price":40960},{"date":"2021-09-26","price":50580},{"date":"2021-10-02","price":53340},{"date":"2021-10-08","price":59290},{"date":"2021-10-16","price":65920},{"date":"2021-10-25","price":63320},{"date":"2021-11-05","price":67630},{"date":"2021-11-12","price":62440},{"date":"2021-11-19","price":58400},{"date":"2021-11-26","price":56240},{"date":"2021-12-03","price":50580},{"date":"2021-12-13","price":48680},{"date":"2021-12-20","price":50580},{"date":"2021-12-27","price":47370},
{"date":"2022-01-03","price":44360},{"date":"2022-01-13","price":40960},{"date":"2022-01-20","price":35890},{"date":"2022-01-27","price":39900},{"date":"2022-02-06","price":44360},{"date":"2022-02-13","price":40340},{"date":"2022-02-23","price":40960},{"date":"2022-03-06","price":40960},{"date":"2022-03-13","price":43160},{"date":"2022-03-23","price":46740},{"date":"2022-03-30","price":47370},{"date":"2022-04-06","price":43160},{"date":"2022-04-13","price":41480},{"date":"2022-04-23","price":39900},{"date":"2022-04-30","price":38850},{"date":"2022-05-05","price":34970},{"date":"2022-05-09","price":29850},{"date":"2022-05-14","price":30610},{"date":"2022-05-21","price":29850},{"date":"2022-05-31","price":31460},{"date":"2022-06-07","price":29450},{"date":"2022-06-13","price":21720},{"date":"2022-06-16","price":19050},{"date":"2022-06-23","price":21170},{"date":"2022-06-28","price":19550},{"date":"2022-07-05","price":20080},{"date":"2022-07-12","price":21720},{"date":"2022-07-19","price":22910},{"date":"2022-07-26","price":23830},{"date":"2022-08-02","price":24150},{"date":"2022-08-09","price":23220},{"date":"2022-08-16","price":21720},{"date":"2022-08-23","price":20080},{"date":"2022-08-30","price":19550},{"date":"2022-09-05","price":21720},{"date":"2022-09-12","price":19050},{"date":"2022-09-19","price":19550},{"date":"2022-09-30","price":19550},{"date":"2022-10-10","price":19550},{"date":"2022-10-20","price":19820},{"date":"2022-10-27","price":21170},{"date":"2022-11-03","price":19550},{"date":"2022-11-07","price":16250},{"date":"2022-11-14","price":16460},{"date":"2022-11-22","price":16900},{"date":"2022-12-01","price":17370},{"date":"2022-12-08","price":17830},{"date":"2022-12-15","price":16690},{"date":"2022-12-22","price":16690},
{"date":"2023-01-01","price":16900},{"date":"2023-01-08","price":19550},{"date":"2023-01-13","price":21720},{"date":"2023-01-20","price":22910},{"date":"2023-01-29","price":23830},{"date":"2023-02-05","price":22910},{"date":"2023-02-12","price":24490},{"date":"2023-02-19","price":24150},{"date":"2023-02-26","price":22910},{"date":"2023-03-04","price":24150},{"date":"2023-03-08","price":21720},{"date":"2023-03-13","price":27920},{"date":"2023-03-20","price":28310},{"date":"2023-03-29","price":28310},{"date":"2023-04-08","price":29850},{"date":"2023-04-15","price":30230},{"date":"2023-04-22","price":28310},{"date":"2023-04-29","price":29060},{"date":"2023-05-06","price":28310},{"date":"2023-05-16","price":27570},{"date":"2023-05-26","price":27920},{"date":"2023-06-04","price":26850},{"date":"2023-06-12","price":25470},{"date":"2023-06-17","price":29060},{"date":"2023-06-24","price":31050},{"date":"2023-07-04","price":30610},{"date":"2023-07-11","price":30610},{"date":"2023-07-21","price":29850},{"date":"2023-08-01","price":29450},{"date":"2023-08-08","price":29850},{"date":"2023-08-14","price":26150},{"date":"2023-08-21","price":26500},{"date":"2023-08-28","price":26150},{"date":"2023-09-04","price":25800},{"date":"2023-09-11","price":26850},{"date":"2023-09-21","price":26500},{"date":"2023-10-01","price":27570},{"date":"2023-10-10","price":28310},{"date":"2023-10-15","price":33160},{"date":"2023-10-22","price":34510},{"date":"2023-10-29","price":35890},{"date":"2023-11-05","price":37350},{"date":"2023-11-12","price":36850},{"date":"2023-11-19","price":38370},{"date":"2023-11-26","price":38370},{"date":"2023-12-03","price":43750},{"date":"2023-12-10","price":43160},{"date":"2023-12-17","price":44360},{"date":"2023-12-24","price":44940},{"date":"2023-12-31","price":46740},
{"date":"2024-01-06","price":44360},{"date":"2024-01-13","price":41480},{"date":"2024-01-20","price":39900},{"date":"2024-01-27","price":43160},{"date":"2024-02-03","price":46740},{"date":"2024-02-10","price":51950},{"date":"2024-02-17","price":53340},{"date":"2024-02-24","price":61660},{"date":"2024-03-02","price":67630},{"date":"2024-03-09","price":73240},{"date":"2024-03-16","price":67630},{"date":"2024-03-23","price":65920},{"date":"2024-03-30","price":71290},{"date":"2024-04-05","price":69470},{"date":"2024-04-12","price":66750},{"date":"2024-04-19","price":63320},{"date":"2024-04-26","price":60850},{"date":"2024-05-03","price":64100},{"date":"2024-05-10","price":65920},{"date":"2024-05-21","price":70390},{"date":"2024-06-01","price":69470},{"date":"2024-06-14","price":65010},{"date":"2024-06-24","price":61660},{"date":"2024-07-02","price":56980},{"date":"2024-07-11","price":65920},{"date":"2024-07-22","price":68420},{"date":"2024-08-01","price":55500},{"date":"2024-08-08","price":61660},{"date":"2024-08-19","price":63320},{"date":"2024-08-26","price":58400},{"date":"2024-09-03","price":55000},{"date":"2024-09-12","price":61660},{"date":"2024-09-22","price":65010},{"date":"2024-10-02","price":62440},{"date":"2024-10-13","price":68420},{"date":"2024-10-23","price":70390},{"date":"2024-10-30","price":73240},{"date":"2024-11-06","price":81400},{"date":"2024-11-13","price":96600},{"date":"2024-11-20","price":99200},{"date":"2024-11-30","price":100400},{"date":"2024-12-11","price":103200},{"date":"2024-12-18","price":98000},{"date":"2024-12-28","price":99200},
{"date":"2025-01-07","price":95360},{"date":"2025-01-18","price":104600},{"date":"2025-01-28","price":101900},{"date":"2025-02-07","price":98000},{"date":"2025-02-18","price":95360},{"date":"2025-02-25","price":88100},{"date":"2025-03-07","price":81400},{"date":"2025-03-17","price":85800},{"date":"2025-03-28","price":84800},{"date":"2025-04-04","price":79250},{"date":"2025-04-14","price":88100},{"date":"2025-04-25","price":96600},{"date":"2025-05-01","price":101900},{"date":"2025-05-08","price":105900},{"date":"2025-05-15","price":111600},{"date":"2025-05-26","price":108800},{"date":"2025-06-05","price":105900},{"date":"2025-06-15","price":108800},{"date":"2025-06-26","price":111600},{"date":"2025-07-06","price":119400},{"date":"2025-07-17","price":120900},{"date":"2025-07-27","price":116300},{"date":"2025-08-06","price":124200},{"date":"2025-08-17","price":114800},{"date":"2025-08-28","price":111600},{"date":"2025-09-07","price":117800},{"date":"2025-09-17","price":116300},{"date":"2025-09-29","price":125900},{"date":"2025-10-08","price":111600},{"date":"2025-10-18","price":114800},{"date":"2025-10-29","price":111600},{"date":"2025-11-04","price":104600},{"date":"2025-11-11","price":95360},{"date":"2025-11-17","price":86900},{"date":"2025-11-25","price":91600},{"date":"2025-12-06","price":89270},{"date":"2025-12-16","price":89270},{"date":"2025-12-26","price":92900},
{"date":"2026-01-06","price":96600},{"date":"2026-01-13","price":95360},{"date":"2026-01-20","price":89270},{"date":"2026-01-26","price":83550},{"date":"2026-01-30","price":67630},{"date":"2026-02-02","price":63320},{"date":"2026-02-09","price":69470},{"date":"2026-02-16","price":67630},{"date":"2026-02-23","price":72270},{"date":"2026-03-02","price":68420},{"date":"2026-03-12","price":74200},{"date":"2026-03-19","price":69470},{"date":"2026-03-26","price":68420},{"date":"2026-04-02","price":73240},{"date":"2026-04-13","price":77200},{"date":"2026-04-23","price":79250},{"date":"2026-05-07","price":82470},{"date":"2026-05-17","price":78200},{"date":"2026-05-24","price":74200},{"date":"2026-05-31","price":62440},{"date":"2026-06-07","price":65010},{"date":"2026-06-17","price":63320},{"date":"2026-06-24","price":60080},{"date":"2026-07-01","price":63320},{"date":"2026-07-12","price":65010},{"date":"2026-07-19","price":65920},{"date":"2026-07-29","price":64800},{"date":"2026-08-08","price":64800},{"date":"2026-08-14","price":64500}
]
},
"layer": [
{
"layer": [
{
"data": {"values": [{}]},
"mark": {"type": "text", "text": "glassnode", "font": "Inter", "fontSize": 183, "fontWeight": 500, "color": "#ececec", "align": "center", "baseline": "alphabetic"},
"encoding": {
"x": {"datum": {"year": 2022, "month": 3, "date": 4, "utc": true}, "type": "temporal", "scale": {"type": "utc", "domain": [{"year": 2017, "month": 9, "date": 3, "utc": true}, {"year": 2026, "month": 8, "date": 16, "utc": true}]}},
"y": {"datum": 1.89, "type": "quantitative", "scale": {"type": "log", "domain": [0.2677, 25.4], "nice": false}}
}
},
{
"data": {"values": [{}]},
"mark": {"type": "rule", "color": "#666666", "strokeWidth": 2.5},
"encoding": {
"y": {"datum": 1, "type": "quantitative", "scale": {"type": "log", "domain": [0.2677, 25.4], "nice": false}}
}
},
{
"data": {"name": "ratio"},
"mark": {"type": "line", "strokeWidth": 2.8, "strokeJoin": "round", "strokeCap": "round"},
"encoding": {
"x": {"field": "date", "type": "temporal", "scale": {"type": "utc", "domain": [{"year": 2017, "month": 9, "date": 3, "utc": true}, {"year": 2026, "month": 8, "date": 16, "utc": true}]},
"axis": {"values": [{"year":2018,"month":3,"date":1,"utc":true},{"year":2018,"month":9,"date":1,"utc":true},{"year":2019,"month":3,"date":1,"utc":true},{"year":2019,"month":9,"date":1,"utc":true},{"year":2020,"month":3,"date":1,"utc":true},{"year":2020,"month":9,"date":1,"utc":true},{"year":2021,"month":3,"date":1,"utc":true},{"year":2021,"month":9,"date":1,"utc":true},{"year":2022,"month":3,"date":1,"utc":true},{"year":2022,"month":9,"date":1,"utc":true},{"year":2023,"month":3,"date":1,"utc":true},{"year":2023,"month":9,"date":1,"utc":true},{"year":2024,"month":3,"date":1,"utc":true},{"year":2024,"month":9,"date":1,"utc":true},{"year":2025,"month":3,"date":1,"utc":true},{"year":2025,"month":9,"date":1,"utc":true},{"year":2026,"month":3,"date":1,"utc":true}],
"labelExpr": "utcFormat(datum.value, \"%b '%y\")", "labelFont": "Inter", "labelFontSize": 19, "labelColor": "#555555", "labelPadding": 12, "labelOverlap": false, "labelFlush": false, "tickSize": 12, "tickColor": "#e0e0e0", "tickWidth": 1.5, "domainColor": "#e6e6e6", "domainWidth": 2, "grid": false,
"title": "© 2026 Glassnode. All Rights Reserved.", "titleFont": "Inter", "titleX": -162, "titleY": 152, "titleAlign": "left", "titleAnchor": "start", "titleBaseline": "middle", "titleFontSize": 25, "titleFontWeight": 400, "titleColor": "#666666"}},
"y": {"field": "ratio", "type": "quantitative", "scale": {"type": "log", "domain": [0.2677, 25.4], "nice": false},
"axis": {"orient": "left", "values": [0.5, 1, 2, 5, 10, 20], "format": "~g", "title": null, "domain": false, "ticks": false, "labelPadding": 27, "labelFont": "Inter", "labelFontSize": 17, "labelColor": "#666666", "grid": true, "gridColor": "#eeeeee", "gridWidth": 1.5}},
"stroke": {"field": "zone", "type": "nominal", "scale": {"domain": ["profit", "loss"], "range": ["#1a9a6e", "#f03a2a"]}, "legend": null},
"detail": {"field": "seg", "type": "nominal"}
}
}
]
},
{
"data": {"name": "price"},
"mark": {"type": "line", "strokeWidth": 3, "strokeJoin": "round"},
"encoding": {
"x": {"field": "date", "type": "temporal", "scale": {"type": "utc", "domain": [{"year": 2017, "month": 9, "date": 3, "utc": true}, {"year": 2026, "month": 8, "date": 16, "utc": true}]}},
"y": {"field": "price", "type": "quantitative", "scale": {"type": "log", "domain": [2712, 149080], "nice": false},
"axis": {"orient": "right", "values": [5000, 10000, 20000, 50000, 100000], "labelExpr": "'$' + format(datum.value / 1000, 'd') + 'k'", "offset": 15, "domainColor": "#000000", "domainWidth": 3, "ticks": false, "grid": false, "labelPadding": 12, "labelFont": "Inter", "labelFontSize": 17, "labelColor": "#666666",
"title": "glassnode", "titleFont": "Inter", "titleAngle": 0, "titleX": 148, "titleY": 858, "titleAlign": "right", "titleBaseline": "middle", "titleFontSize": 50.7, "titleFontWeight": 500, "titleColor": "#111111"}},
"color": {"datum": "BTC: Price [USD]", "type": "nominal", "scale": {"domain": ["BTC: Realized Profit/Loss Ratio (90d sma)", "BTC: Price [USD]"], "range": ["#f7931a", "#000000"]},
"legend": {"orient": "none", "legendX": -163, "legendY": -91, "direction": "horizontal", "title": null, "symbolType": "circle", "symbolSize": 110, "symbolStrokeWidth": 0, "labelFont": "Inter", "labelFontSize": 19.4, "labelColor": "#222222", "labelOffset": 4, "labelLimit": 0, "columnPadding": 24, "padding": 0,
"encode": {"symbols": {"update": {"fill": {"scale": "color", "field": "value"}, "stroke": {"value": "transparent"}, "opacity": {"value": 1}}}}}}
}
}
],
"resolve": {"scale": {"y": "independent"}}
}
